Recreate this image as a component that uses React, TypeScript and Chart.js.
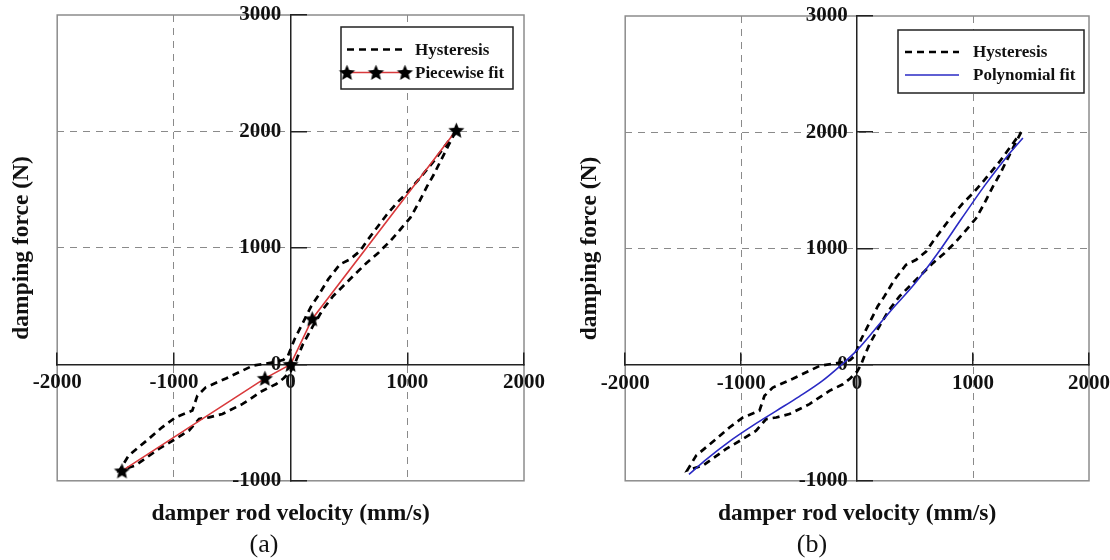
import { useEffect, useRef } from 'react';
import { Chart, registerables } from 'chart.js';

Chart.register(...registerables);

const FONT = "'Liberation Serif', 'Times New Roman', serif";

// Axis ranges / ticks
const xRange = [-2000, 2000];
const yRange = [-1000, 3000];
const tickStep = 1000;

// Hysteresis loop (closed): top tip -> lower branch -> bottom tip -> upper branch -> top tip
const hystX = [
  1415, 1356, 1284, 1227, 1170, 1097, 1026, 940, 853, 753, 653, 537, 451, 365, 278, 192, 106, 63, 34,
  0, -60, -123, -239, -411, -584, -698, -784, -871, -985, -1129, -1330, -1465,
  -1388, -1216, -1101, -985, -842, -799, -727, -554, -325, -123, -60, -23,
  34, 106, 178, 235, 322, 422, 509, 595, 653, 739, 825, 911, 997, 1097, 1227, 1342, 1415,
];
const hystY = [
  2000, 1887, 1744, 1630, 1530, 1387, 1259, 1158, 1058, 959, 873, 759, 673, 587, 473, 330, 173, 73, 0,
  -60, -120, -169, -226, -340, -426, -455, -469, -569, -640, -726, -869, -910,
  -783, -640, -541, -455, -397, -269, -198, -121, -12, 22, 40, 73,
  216, 359, 502, 587, 730, 859, 902, 973, 1058, 1173, 1287, 1387, 1473, 1587, 1744, 1901, 2000,
];

// Piecewise linear fit (panel a)
const pieceX = [-1445, -220, 0, 185, 1420];
const pieceY = [-915, -120, 0, 390, 2010];

// Polynomial fit (panel b)
const polyX = [-1450, -1300, -1100, -900, -700, -500, -300, -150, 0, 150, 300, 500, 700, 900, 1100, 1300, 1430];
const polyY = [-945, -815, -660, -525, -400, -275, -140, -15, 125, 298, 475, 700, 965, 1255, 1540, 1800, 1950];

const labels = {
  hyst: 'Hysteresis',
  piece: 'Piecewise fit',
  poly: 'Polynomial fit',
  xTitle: 'damper rod velocity (mm/s)',
  yTitle: 'damping force (N)',
};

const toPts = (xs: number[], ys: number[]) => xs.map((x, i) => ({ x, y: ys[i] }));

function makeStar(r: number, color: string): HTMLCanvasElement {
  const c = document.createElement('canvas');
  const s = Math.ceil(r * 2 + 2);
  c.width = s;
  c.height = s;
  const g = c.getContext('2d')!;
  g.fillStyle = color;
  g.beginPath();
  for (let i = 0; i < 10; i++) {
    const a = -Math.PI / 2 + (i * Math.PI) / 5;
    const rr = i % 2 === 0 ? r : r * 0.45;
    g.lineTo(s / 2 + rr * Math.cos(a), s / 2 + rr * Math.sin(a) + r * 0.08);
  }
  g.closePath();
  g.fill();
  return c;
}

const framePlugin = {
  id: 'frame',
  beforeDraw(chart: any) {
    const { ctx, chartArea: a } = chart;
    ctx.save();
    ctx.strokeStyle = '#8c8c8c';
    ctx.lineWidth = 1.5;
    ctx.strokeRect(a.left, a.top, a.right - a.left, a.bottom - a.top);
    ctx.restore();
  },
};

const boxLegendPlugin = {
  id: 'boxLegend',
  afterDraw(chart: any, _args: any, opts: any) {
    if (!opts || !opts.box) return;
    const { ctx } = chart;
    const { box, rows, sample, textX } = opts;
    ctx.save();
    ctx.fillStyle = '#fff';
    ctx.fillRect(box.l, box.t, box.r - box.l, box.b - box.t);
    ctx.strokeStyle = '#222';
    ctx.lineWidth = 1.5;
    ctx.strokeRect(box.l, box.t, box.r - box.l, box.b - box.t);
    const items = opts.order.map((i: number) => chart.data.datasets[i]);
    items.forEach((ds: any, k: number) => {
      const y = rows[k];
      ctx.save();
      ctx.strokeStyle = ds.borderColor;
      ctx.lineWidth = ds.borderWidth;
      ctx.setLineDash(ds.borderDash || []);
      ctx.beginPath();
      ctx.moveTo(sample[0], y);
      ctx.lineTo(sample[1], y);
      ctx.stroke();
      ctx.restore();
      if (ds.pointStyle && typeof ds.pointStyle !== 'string' && ds.pointRadius > 0) {
        const img = ds.pointStyle as HTMLCanvasElement;
        [sample[0], (sample[0] + sample[1]) / 2, sample[1]].forEach((px) => {
          ctx.drawImage(img, px - img.width / 2, y - img.height / 2);
        });
      }
      ctx.fillStyle = '#111';
      ctx.font = `bold 17px ${FONT}`;
      ctx.textAlign = 'left';
      ctx.textBaseline = 'middle';
      ctx.fillText(ds.label, textX, y + 1);
    });
    ctx.restore();
  },
};

function buildConfig(kind: 'a' | 'b'): any {
  const star = makeStar(8.5, '#000');
  const tickFont = { family: FONT, size: 21, weight: 'bold' };
  const titleFont = { family: FONT, size: 23.5, weight: 'bold' };
  const fmtX = (v: any) => String(v);
  // a little trailing room so right-aligned labels sit clear of the vertical axis
  const fmtY = (v: any) => `${v} \u2009`;
  const gridColorFor = (min: number, max: number) => (c: any) => {
    const v = c.tick ? c.tick.value : null;
    return v === 0 || v === min || v === max ? 'rgba(0,0,0,0)' : '#8a8a8a';
  };
  const zeroFit = (horizontal: boolean) => (s: any) => {
    if (horizontal) s.height = 0;
    else s.width = 0;
    s.paddingLeft = 0;
    s.paddingRight = 0;
    s.paddingTop = 0;
    s.paddingBottom = 0;
  };

  const hystDs = {
    label: labels.hyst,
    data: toPts(hystX, hystY),
    showLine: true,
    borderColor: '#000',
    borderWidth: 2.7,
    borderDash: [7, 5],
    pointRadius: 0,
    tension: 0,
    order: 2,
  };
  const fitDs =
    kind === 'a'
      ? {
          label: labels.piece,
          data: toPts(pieceX, pieceY),
          showLine: true,
          borderColor: '#d93a3c',
          borderWidth: 1.6,
          pointStyle: star,
          pointRadius: 8,
          tension: 0,
          order: 1,
        }
      : {
          label: labels.poly,
          data: toPts(polyX, polyY),
          showLine: true,
          borderColor: '#2a2ac4',
          borderWidth: 1.6,
          pointRadius: 0,
          cubicInterpolationMode: 'monotone',
          order: 1,
        };

  const pad =
    kind === 'a'
      ? { left: 0, top: 15, right: 31, bottom: 32 }
      : { left: 13, top: 16, right: 21, bottom: 32 };
  const legend =
    kind === 'a'
      ? { box: { l: 341, t: 27, r: 513, b: 89 }, rows: [49.5, 72.5], sample: [347, 405], textX: 415, order: [0, 1] }
      : { box: { l: 343, t: 30, r: 529, b: 93 }, rows: [52, 75], sample: [350, 404], textX: 418, order: [0, 1] };

  return {
    type: 'scatter',
    data: { datasets: [hystDs, fitDs] },
    plugins: [framePlugin, boxLegendPlugin],
    options: {
      animation: false,
      responsive: false,
      events: [],
      layout: { padding: pad },
      plugins: {
        legend: { display: false },
        tooltip: { enabled: false },
        boxLegend: legend,
      },
      scales: {
        x: {
          type: 'linear',
          position: 'bottom',
          min: xRange[0],
          max: xRange[1],
          ticks: { display: false, stepSize: tickStep },
          grid: { color: gridColorFor(xRange[0], xRange[1]), lineWidth: 1, drawTicks: false },
          border: { display: false, dash: [7, 6] },
          title: { display: true, text: labels.xTitle, font: titleFont, color: '#111', padding: { top: 19, bottom: 0 } },
        },
        y: {
          type: 'linear',
          position: 'left',
          min: yRange[0],
          max: yRange[1],
          ticks: { display: false, stepSize: tickStep },
          grid: { color: gridColorFor(yRange[0], yRange[1]), lineWidth: 1, drawTicks: false },
          border: { display: false, dash: [7, 6] },
          title: { display: true, text: labels.yTitle, font: titleFont, color: '#111', padding: { top: 8, bottom: 21 } },
        },
        xo: {
          type: 'linear',
          axis: 'x',
          position: { y: 0 },
          min: xRange[0],
          max: xRange[1],
          ticks: { stepSize: tickStep, font: tickFont, color: '#111', padding: 19, maxRotation: 0, autoSkip: false, callback: fmtX },
          grid: {
            display: true,
            drawOnChartArea: false,
            drawTicks: true,
            tickLength: -13,
            tickColor: '#222',
            tickWidth: 1.5,
            tickBorderDash: [],
            lineWidth: 1.5,
          },
          border: { display: true, color: '#222', width: 1.5, dash: [] },
          afterFit: zeroFit(true),
        },
        yo: {
          type: 'linear',
          axis: 'y',
          position: { x: 0 },
          min: yRange[0],
          max: yRange[1],
          ticks: { stepSize: tickStep, font: tickFont, color: '#111', padding: 25, autoSkip: false, callback: fmtY },
          grid: {
            display: true,
            drawOnChartArea: false,
            drawTicks: true,
            tickLength: -17,
            tickColor: '#222',
            tickWidth: 1.5,
            tickBorderDash: [],
            lineWidth: 1.5,
          },
          border: { display: true, color: '#222', width: 1.5, dash: [] },
          afterFit: zeroFit(false),
        },
      },
    },
  };
}

function Panel({ kind, left }: { kind: 'a' | 'b'; left: number }) {
  const ref = useRef<HTMLCanvasElement>(null);
  useEffect(() => {
    const chart = new Chart(ref.current as HTMLCanvasElement, buildConfig(kind));
    return () => chart.destroy();
  }, [kind]);
  return (
    <canvas
      ref={ref}
      width={555}
      height={560}
      style={{ position: 'absolute', left, top: 0, width: 555, height: 560 }}
    />
  );
}

const captionStyle = (x: number): any => ({
  position: 'absolute',
  left: x,
  top: 544,
  transform: 'translate(-50%, -50%)',
  fontFamily: FONT,
  fontSize: 26,
  color: '#111',
  lineHeight: 1,
  whiteSpace: 'nowrap',
});

export default function App() {
  return (
    <div
      style={{
        position: 'fixed',
        left: 0,
        top: 0,
        width: 1110,
        height: 560,
        background: '#fff',
        overflow: 'hidden',
      }}
    >
      <Panel kind="a" left={0} />
      <Panel kind="b" left={555} />
      <div style={captionStyle(264)}>(a)</div>
      <div style={captionStyle(812)}>(b)</div>
    </div>
  );
}
